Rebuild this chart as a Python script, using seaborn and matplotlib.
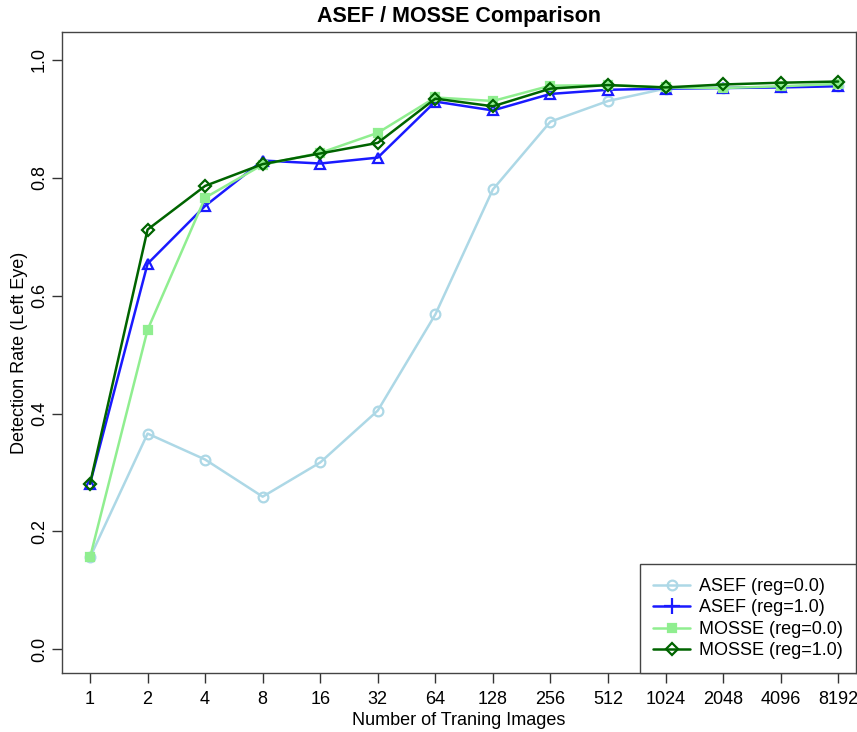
import matplotlib
matplotlib.use("Agg")
import matplotlib.pyplot as plt
import seaborn as sns
import pandas as pd
from matplotlib.lines import Line2D

sns.set_theme(style="white")
plt.rcParams['font.family'] = ['Liberation Sans', 'DejaVu Sans']
plt.rcParams['text.color'] = 'black'
plt.rcParams['axes.labelcolor'] = 'black'
plt.rcParams['xtick.color'] = 'black'
plt.rcParams['ytick.color'] = 'black'

train_sizes = ["1", "2", "4", "8", "16", "32", "64", "128", "256", "512",
               "1024", "2048", "4096", "8192"]
asef_reg0 = [0.156, 0.366, 0.322, 0.259, 0.317, 0.405, 0.568, 0.780, 0.895,
             0.930, 0.951, 0.952, 0.954, 0.956]
asef_reg1 = [0.281, 0.654, 0.752, 0.829, 0.824, 0.834, 0.929, 0.914, 0.942,
             0.949, 0.951, 0.952, 0.953, 0.955]
mosse_reg0 = [0.156, 0.542, 0.766, 0.822, 0.842, 0.876, 0.936, 0.930, 0.956,
              0.957, 0.953, 0.952, 0.955, 0.959]
mosse_reg1 = [0.281, 0.712, 0.786, 0.823, 0.841, 0.859, 0.934, 0.921, 0.951,
              0.957, 0.953, 0.958, 0.961, 0.963]
series_names = ["ASEF (reg=0.0)", "ASEF (reg=1.0)", "MOSSE (reg=0.0)", "MOSSE (reg=1.0)"]
series_values = [asef_reg0, asef_reg1, mosse_reg0, mosse_reg1]

rows = []
for name, vals in zip(series_names, series_values):
    for i, (lab, v) in enumerate(zip(train_sizes, vals)):
        rows.append({"series": name, "pos": i, "size": lab, "rate": v})
df = pd.DataFrame(rows)

styles = {
    "ASEF (reg=0.0)": dict(color="#ADD8E6", marker="o", mfc="none", lmarker="o", lmfc="none", ms=7),
    "ASEF (reg=1.0)": dict(color="#1a1aff", marker="^", mfc="none", lmarker="+", lmfc="none", ms=7.5),
    "MOSSE (reg=0.0)": dict(color="#90EE90", marker="s", mfc="#90EE90", lmarker="s", lmfc="#90EE90", ms=6),
    "MOSSE (reg=1.0)": dict(color="#006400", marker="D", mfc="none", lmarker="D", lmfc="none", ms=6),
}

W, H = 857, 732
fig = plt.figure(figsize=(W / 100, H / 100), dpi=100)
ax = fig.add_axes([62 / W, 1 - 673 / H, (856 - 62) / W, (673 - 32) / H])

for name in series_names:
    st = styles[name]
    sub = df[df["series"] == name]
    sns.lineplot(data=sub, x="pos", y="rate", ax=ax, color=st["color"],
                 linewidth=1.8, marker=st["marker"], markersize=st["ms"],
                 markerfacecolor=st["mfc"], markeredgecolor=st["color"],
                 markeredgewidth=1.6, legend=False)

ax.set_xlim(-0.487, 13.31)
ax.set_ylim(-0.04, 1.047)
ax.set_xticks(range(len(train_sizes)))
ax.set_xticklabels(train_sizes)
ax.set_yticks([0.0, 0.2, 0.4, 0.6, 0.8, 1.0])
ax.set_yticklabels(["0.0", "0.2", "0.4", "0.6", "0.8", "1.0"], rotation=90, va="center")
ax.tick_params(axis="both", which="both", direction="out", length=7, width=1,
               color="#333333", labelsize=13, pad=6, bottom=True, left=True)
ax.tick_params(axis="y", pad=3)
for sp in ax.spines.values():
    sp.set_color("#444444")
    sp.set_linewidth(1)
ax.set_xlabel("Number of Traning Images", fontsize=13, labelpad=3)
ax.set_ylabel("Detection Rate (Left Eye)", fontsize=13, labelpad=2)
ax.set_title("ASEF / MOSSE Comparison", fontsize=15.5, fontweight="bold", pad=7)

handles = []
for name in series_names:
    st = styles[name]
    ms = st["ms"]
    if st["lmarker"] == "+":
        ms = 12
    handles.append(Line2D([], [], color=st["color"], linewidth=1.8, marker=st["lmarker"],
                          markersize=ms, markerfacecolor=st["lmfc"],
                          markeredgecolor=st["color"], markeredgewidth=1.6))
leg = ax.legend(handles, series_names, loc="lower right", fontsize=13, frameon=True,
                fancybox=False, framealpha=1, edgecolor="#444444", borderpad=0.75,
                handlelength=2.0, handletextpad=0.5, labelspacing=0.25, borderaxespad=0)
leg.get_frame().set_linewidth(1)

fig.savefig("out.png", dpi=100)
